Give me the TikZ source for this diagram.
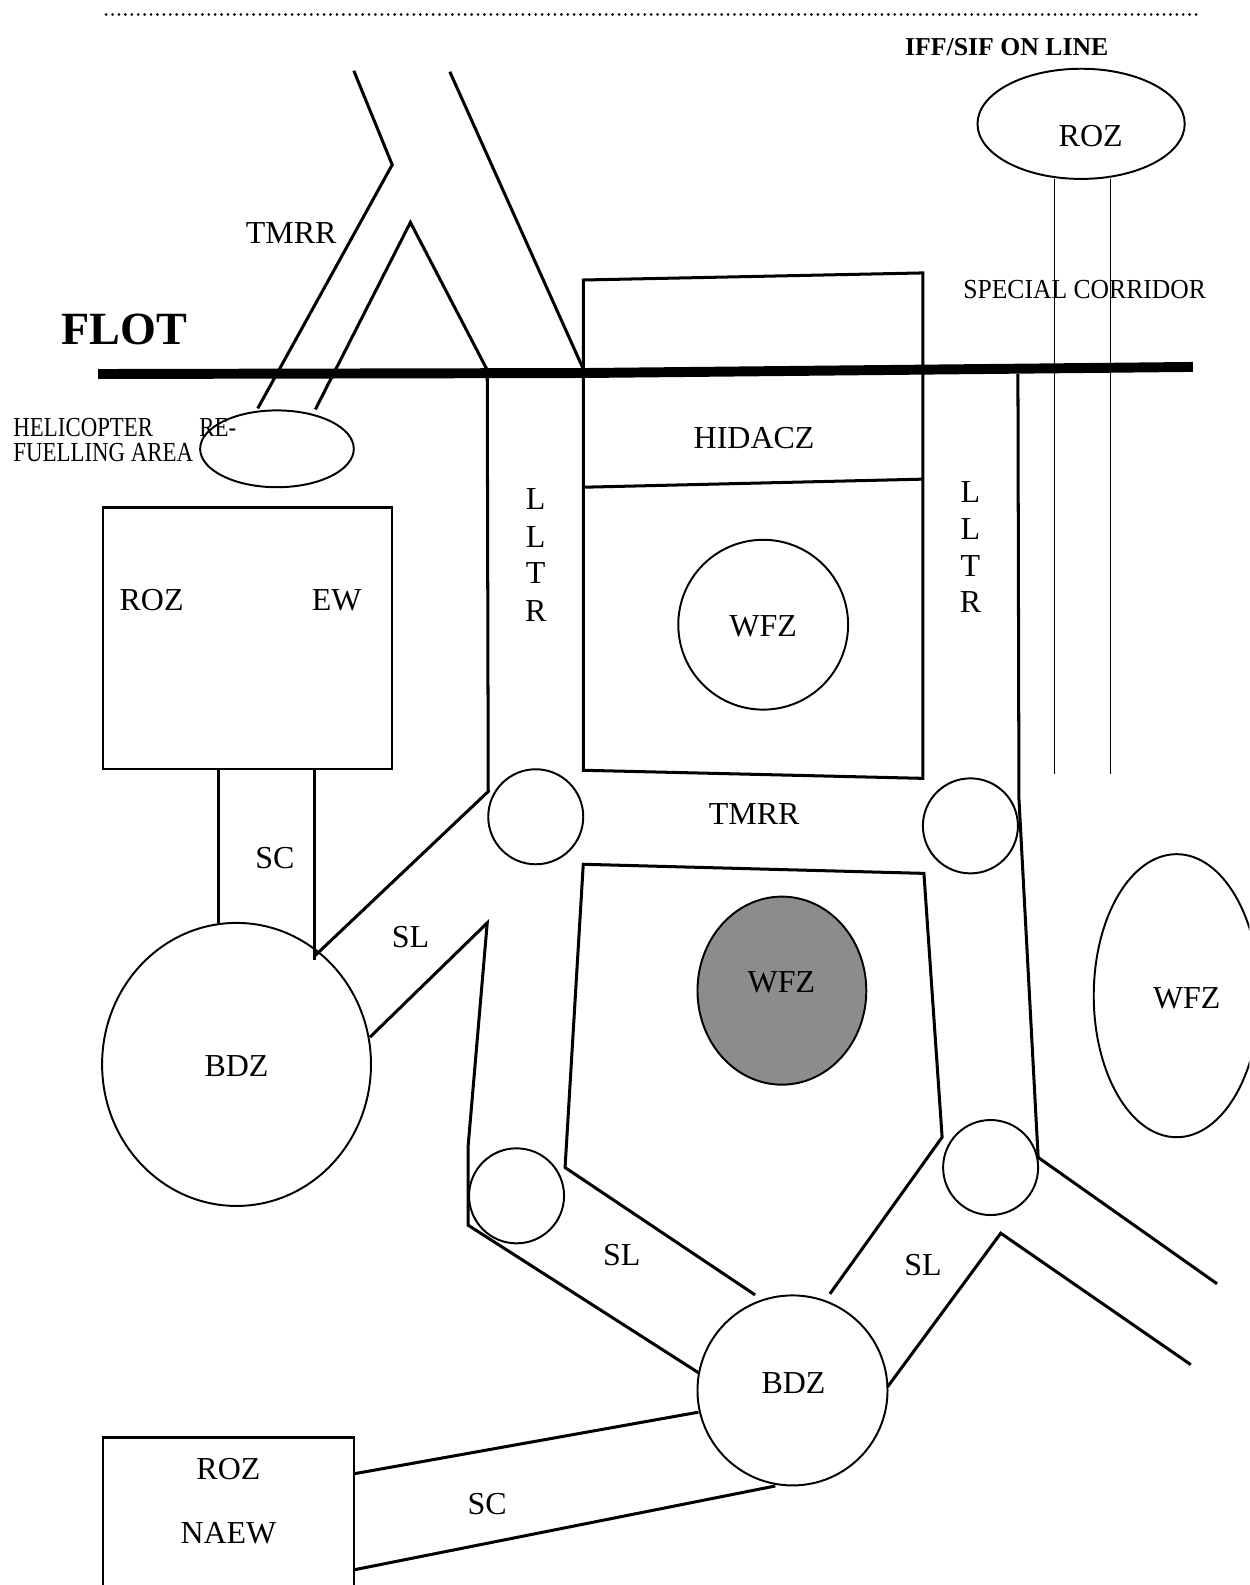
\documentclass[tikz,border=0pt]{standalone}
\usepackage{fontspec}
\setmainfont{Liberation Serif}
\usepackage{graphicx}
\begin{document}
\begin{tikzpicture}[x=0.02cm,y=-0.02cm,
  road/.style={line width=1.7pt,line join=miter},
  zone/.style={line width=1.1pt},
  boxln/.style={line width=1.3pt},
  thinln/.style={line width=0.8pt},
  flotln/.style={line width=5.6pt},
  dotln/.style={line width=1.6pt,line cap=round,dash pattern=on 0.01pt off 3.6pt},
  lbl/.style={inner sep=0pt,font=\fontsize{18}{21}\selectfont},
  smalllbl/.style={inner sep=0pt,font=\fontsize{15.5}{18}\selectfont},
]
\clip (0,0) rectangle (1236,1568);
\fill[white] (0,0) rectangle (1236,1568);

% dotted rule at top
\draw[dotln] (105,14) -- (1185,14);

% FLOT line
\draw[flotln] (97,370) -- (580,369) -- (1180,363);

% top-left routes
\draw[road] (350,70) -- (388,163) -- (255,404);
\draw[road] (312,405) -- (406,220) -- (482,366) -- (483,783) -- (312,945);
\draw[road] (445,71) -- (577,365);

% HIDACZ / WFZ box
\draw[road] (577,277) -- (913,270) -- (913,770) -- (577,762) -- cycle;
\draw[road] (577,482) -- (913,474);
\draw[zone] (755,618) circle [radius=84];

% TMRR circles
\draw[zone] (530,808) circle [radius=47];
\draw[zone] (960,817) circle [radius=47];

% right LLTR line and branch
\draw[road] (1007,370) -- (1008,790) -- (1027,1145) -- (1204,1270);
\draw[road] (878,1372) -- (990,1220) -- (1178,1350);

% lower pentagon
\draw[road] (747,1281) -- (559,1155) -- (577,855) -- (914,864) -- (932,1125) -- (821,1280);
\fill[black!45] (773.5,980) ellipse [x radius=83.5, y radius=93];
\draw[zone] (773.5,980) ellipse [x radius=83.5, y radius=93];

% lower-left route
\draw[road] (366,1026) -- (482,913) -- (463,1135) -- (463,1212) -- (691,1358);
\draw[zone] (511,1183) circle [radius=47];
\draw[zone] (980,1155) circle [radius=47];

% ROZ EW box and SC
\draw[boxln] (102,502) rectangle (388,761);
\draw[road] (216,761) -- (216,913);
\draw[road] (311,761) -- (311,950);
\draw[zone] (234,1053) ellipse [x radius=133, y radius=140];

% helicopter refuelling area
\draw[zone] (274,444) ellipse [x radius=76, y radius=38];

% top-right ROZ and special corridor
\draw[zone] (1069.5,122.5) ellipse [x radius=102.5, y radius=54.5];
\draw[thinln] (1043,177) -- (1043,766);
\draw[thinln] (1098.5,177) -- (1098.5,766);

% right WFZ
\draw[zone] (1164,985) ellipse [x radius=82, y radius=140];

% bottom BDZ and SC to ROZ NAEW
\draw[zone] (784,1375.5) circle [radius=94];
\draw[road] (350,1458) -- (691,1397);
\draw[road] (350,1553) -- (767,1470);
\draw[boxln] (102,1600) -- (102,1422) -- (350,1422) -- (350,1600);

% labels
\node[inner sep=0pt,font=\bfseries\fontsize{14.5}{17}\selectfont] (iff) at (996,47) {IFF/SIF ON LINE};
\node[lbl] (roztop) at (1079,135) {ROZ};
\node[smalllbl] (spc) at (1073,286) {\scalebox{0.93}[1]{SPECIAL CORRIDOR}};
\node[lbl] (tmrrtop) at (288,231) {TMRR};
\node[inner sep=0pt,font=\bfseries\fontsize{26}{30}\selectfont] (flot) at (123,326) {FLOT};
\node[smalllbl,anchor=west] (heli) at (13,423) {\scalebox{0.83}[1]{HELICOPTER}};
\node[smalllbl,anchor=west] (re) at (197,423) {\scalebox{0.83}[1]{RE-}};
\node[smalllbl,anchor=west] (fuel) at (13,448) {\scalebox{0.83}[1]{FUELLING AREA}};
\node[lbl] (hidacz) at (746,433) {HIDACZ};
\node[lbl] (la1) at (530,494) {L};
\node[lbl] (la2) at (530,531) {L};
\node[lbl] (la3) at (530,567) {T};
\node[lbl] (la4) at (530,604) {R};
\node[lbl] (lb1) at (960,487) {L};
\node[lbl] (lb2) at (960,523) {L};
\node[lbl] (lb3) at (960,560) {T};
\node[lbl] (lb4) at (960,596) {R};
\node[lbl] (wfz1) at (755,620) {WFZ};
\node[lbl] (rozew) at (150,594) {ROZ};
\node[lbl] (ew) at (333,594) {EW};
\node[lbl] (tmrrmid) at (746,805) {TMRR};
\node[lbl] (sc1) at (272,849) {SC};
\node[lbl] (sl1) at (406,927) {SL};
\node[lbl] (bdz1) at (234,1055) {BDZ};
\node[lbl] (wfz2) at (773,972) {WFZ};
\node[lbl] (wfz3) at (1174,988) {WFZ};
\node[lbl] (sl2) at (615,1242) {SL};
\node[lbl] (sl3) at (913,1251) {SL};
\node[lbl] (bdz2) at (785,1368) {BDZ};
\node[lbl] (roz3) at (226,1453) {ROZ};
\node[lbl] (naew) at (226,1517) {NAEW};
\node[lbl] (sc2) at (482,1488) {SC};
\end{tikzpicture}
\end{document}
